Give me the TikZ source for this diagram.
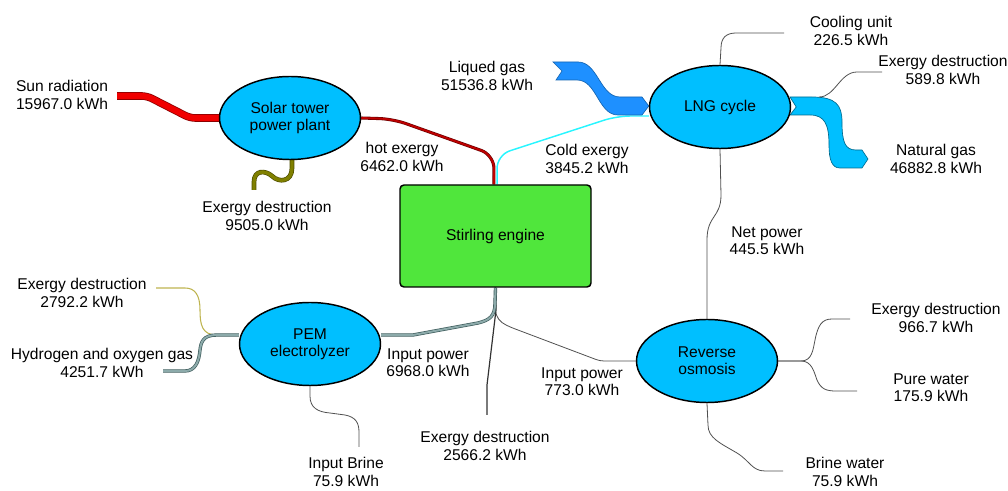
\documentclass[tikz,border=0pt]{standalone}
\usepackage{fontspec}
\setmainfont{Liberation Sans}
\usepackage{xcolor}
\usepackage{tikz}
\usetikzlibrary{shapes.geometric,positioning,backgrounds,calc}
\definecolor{unitblue}{RGB}{0,191,255}
\definecolor{stirgreen}{RGB}{80,230,60}
\definecolor{liqblue}{RGB}{30,144,255}
\definecolor{sunred}{RGB}{240,0,0}
\definecolor{hotred}{RGB}{190,0,0}
\definecolor{coldcyan}{RGB}{40,245,255}
\definecolor{lossolive}{RGB}{128,128,0}
\definecolor{lineolive}{RGB}{190,180,80}
\definecolor{slatedark}{RGB}{60,90,90}
\definecolor{slatelight}{RGB}{140,170,170}
\definecolor{thingray}{RGB}{80,80,80}
\tikzset{
	every node/.style={font=\fontsize{11.7}{13}\selectfont},
	unit/.style={
		ellipse,
		draw,
		line width=1.1pt,
		fill=unitblue,
		minimum width=105.75pt,
		minimum height=62.25pt,
		inner sep=0pt,
		align=center
	},
	engine/.style={
		draw,
		line width=1.1pt,
		rounded corners=3pt,
		fill=stirgreen,
		minimum width=143.25pt,
		minimum height=76.5pt
	},
	lbl/.style={align=center,inner sep=0pt},
	sunband/.style={draw=red!55!black,double=sunred,line width=0.6pt,double distance=4.5pt,rounded corners=4pt},
	hotline/.style={draw=red!40!black,double=hotred,line width=0.45pt,double distance=1.4pt},
	coldline/.style={draw=coldcyan,line width=1.1pt},
	olivewave/.style={draw=lossolive!60!black,double=lossolive,line width=0.5pt,double distance=2.5pt},
	oliveline/.style={draw=lineolive,line width=0.8pt},
	slateline/.style={draw=slatedark,double=slatelight,line width=0.5pt,double distance=1.5pt},
	thinline/.style={draw=thingray,line width=0.6pt},
	darkline/.style={draw=black!80,line width=0.9pt},
	liqband/.style={fill=liqblue,draw=liqblue!70!black,line width=0.5pt},
	gasband/.style={fill=unitblue,draw=unitblue!55!black,line width=0.5pt}
}

\begin{document}
\begin{tikzpicture}[x=0.75pt,y=-0.75pt]
	\useasboundingbox (0,0) rectangle (1008,491);
	
	% Nodes
	\node[unit] (sol) at (290,118) {Solar tower\\power plant};
	\node[unit] (lng) at (720,107) {LNG cycle};
	\node[unit] (pem) at (310,344) {PEM\\electrolyzer};
	\node[unit] (ro) at (707,361) {Reverse\\osmosis};
	\node[engine] (stir) at (495.5,236) {Stirling engine};
	
	% Free ends
	\coordinate (sunIn) at (117,96);
	\coordinate (solLoss) at (254,190);
	\coordinate (liqIn) at (553,62);
	\coordinate (coolOut) at (784,33);
	\coordinate (lngLossOut) at (882,72);
	\coordinate (roLossOut) at (850,319);
	\coordinate (pureOut) at (857,391);
	\coordinate (brineOut) at (783,471);
	\coordinate (stirLoss) at (487,415);
	\coordinate (pemLossOut) at (156,288);
	\coordinate (gasOut) at (163,371);
	\coordinate (brineIn) at (359,447);
	
	% Connections
	\begin{scope}[on background layer]
		\draw[sunband] (sunIn) -- (147,96) -- (190,118) -- (sol.west);
		\draw[olivewave] ([xshift=1.5pt]sol.south) -- (292,168)
			.. controls (292,182) and (279,183) .. (272,176)
			.. controls (265,170) and (254,170) .. (254,182) -- (solLoss);
		\draw[hotline,rounded corners=10pt] (sol.east) -- (393,119) -- (494,155) -- ([xshift=-1.2pt]stir.north);
		\draw[coldline,rounded corners=10pt] ([yshift=-6.75pt]lng.west) -- (617,116) -- (497,155) -- ([xshift=1.2pt]stir.north);
		\filldraw[liqband] (liqIn) -- (578,62) .. controls (598,62) and (600,97) .. (620,97) -- (642,97)
			-- ([yshift=0.75pt]lng.west) -- (642,115) -- (618,115)
			.. controls (598,115) and (597,80) .. (577,80) -- (556,80) -- (562,71) -- cycle;
		\filldraw[gasband] (790,97) -- (812,97) .. controls (836,97) and (842,105) .. (842,122)
			.. controls (842,142) and (845,150) .. (856,150) -- (862,150) -- (868,159) -- (862,168) -- (840,168)
			.. controls (832,168) and (829,160) .. (829,145) .. controls (829,125) and (825,115) .. (810,115)
			-- (790,115) -- ($(lng.east)+(5,0)$) -- cycle;
		\draw[thinline] (lng.north) -- (721,48) .. controls (721,38) and (726,33) .. (736,33) -- (coolOut);
		\draw[thinline] ($(lng.east)+(28,-10)$) .. controls (835,97) and (840,72) .. (857,72) -- (lngLossOut);
		\draw[thinline] (lng.south) -- (721,195) .. controls (721,218) and (707,215) .. (707,240) -- (ro.north);
		\draw[thinline,rounded corners=3pt] (stir.south) -- (495,305) .. controls (496,318) and (500,322) .. (510,327)
			-- (600,361) -- (ro.west);
		\draw[darkline] (stir.south) -- (496,310) -- (487,385) -- (stirLoss);
		\draw[slateline] (stir.south) -- (495,303) .. controls (495,316) and (490,320) .. (478,323)
			-- (413,335) -- ([yshift=6.75pt]pem.east);
		\draw[oliveline] ([yshift=6.75pt]pem.west) -- (217,335) .. controls (202,335) and (200,325) .. (200,310)
			.. controls (200,295) and (195,288) .. (185,288) -- (pemLossOut);
		\draw[slateline] ([yshift=6.75pt]pem.west) -- (217,335) .. controls (203,335) and (201,342) .. (200,350)
			.. controls (199,362) and (195,371) .. (185,371) -- (gasOut);
		\draw[thinline] (pem.south) -- (310,396) .. controls (310,408) and (318,412) .. (330,413)
			-- (345,415) .. controls (355,417) and (359,422) .. (359,432) -- (brineIn);
		\draw[thinline] (ro.east) -- (801,361) .. controls (812,361) and (813,350) .. (815,340)
			.. controls (818,325) and (822,319) .. (832,319) -- (roLossOut);
		\draw[thinline] (ro.east) -- (801,361) .. controls (812,361) and (814,372) .. (817,380)
			.. controls (821,389) and (826,391) .. (836,391) -- (pureOut);
		\draw[thinline] (ro.south) -- (708,425) .. controls (708,438) and (720,443) .. (737,453)
			.. controls (750,461) and (752,471) .. (765,471) -- (brineOut);
	\end{scope}
	
	% Annotations
	\node[lbl] (lblSun) at (62,95) {Sun radiation\\15967.0 kWh};
	\node[lbl] (lblSolLoss) at (267,216) {Exergy destruction\\9505.0 kWh};
	\node[lbl] (lblHot) at (402,157) {hot exergy\\6462.0 kWh};
	\node[lbl] (lblLiq) at (487,76) {Liqued gas\\51536.8 kWh};
	\node[lbl] (lblCold) at (587,159) {Cold exergy\\3845.2 kWh};
	\node[lbl] (lblCool) at (851,31) {Cooling unit\\226.5 kWh};
	\node[lbl] (lblLngLoss) at (943,70) {Exergy destruction\\589.8 kWh};
	\node[lbl] (lblGas) at (936,159) {Natural gas\\46882.8 kWh};
	\node[lbl] (lblNet) at (767,241) {Net power\\445.5 kWh};
	\node[lbl] (lblRoLoss) at (936,318) {Exergy destruction\\966.7 kWh};
	\node[lbl] (lblPure) at (931,388) {Pure water\\175.9 kWh};
	\node[lbl] (lblBrineOut) at (845,472) {Brine water\\75.9 kWh};
	\node[lbl] (lblIn773) at (582,382) {Input power\\773.0 kWh};
	\node[lbl] (lblStirLoss) at (485,446) {Exergy destruction\\2566.2 kWh};
	\node[lbl] (lblIn6968) at (428,363) {Input power\\6968.0 kWh};
	\node[lbl] (lblPemLoss) at (82,293) {Exergy destruction\\2792.2 kWh};
	\node[lbl] (lblH2) at (102,363) {Hydrogen and oxygen gas\\4251.7 kWh};
	\node[lbl] (lblBrineIn) at (346,472) {Input Brine\\75.9 kWh};
	
\end{tikzpicture}
\end{document}
